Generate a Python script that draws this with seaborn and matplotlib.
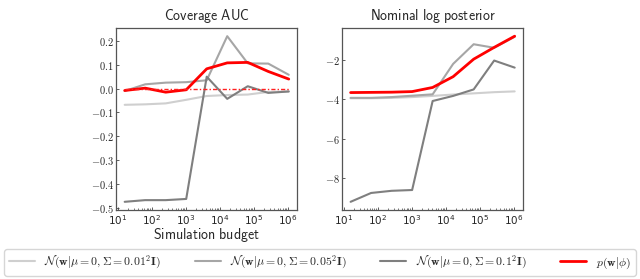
import numpy as np
import pandas as pd
import seaborn as sns
import matplotlib
matplotlib.use("Agg")
import matplotlib.pyplot as plt
from matplotlib.ticker import FuncFormatter, LogLocator, MultipleLocator

budgets = [16, 64, 256, 1024, 4096, 16384, 65536, 262144, 1048576]
series_labels = [
    r"$\mathcal{N}(\mathbf{w}|\mu=\mathbf{0},\mathbf{\Sigma}=0.01^2\mathbf{I})$",
    r"$\mathcal{N}(\mathbf{w}|\mu=\mathbf{0},\mathbf{\Sigma}=0.05^2\mathbf{I})$",
    r"$\mathcal{N}(\mathbf{w}|\mu=\mathbf{0},\mathbf{\Sigma}=0.1^2\mathbf{I})$",
    r"$p(\mathbf{w}|\phi)$",
]
colors = ["#cfcfcf", "#a6a6a6", "#7f7f7f", "#ff0000"]

auc_001 = [-0.068, -0.066, -0.062, -0.047, -0.031, -0.027, -0.025, -0.014, -0.012]
auc_005 = [-0.010, 0.018, 0.025, 0.027, 0.035, 0.220, 0.106, 0.105, 0.058]
auc_01 = [-0.475, -0.468, -0.468, -0.463, 0.050, -0.043, 0.010, -0.018, -0.012]
auc_prior = [-0.008, 0.002, -0.015, -0.005, 0.083, 0.108, 0.110, 0.072, 0.040]

lp_001 = [-3.95, -3.95, -3.93, -3.89, -3.83, -3.76, -3.70, -3.64, -3.60]
lp_005 = [-3.93, -3.93, -3.89, -3.82, -3.75, -2.20, -1.20, -1.38, -0.82]
lp_01 = [-9.22, -8.77, -8.66, -8.62, -4.09, -3.83, -3.50, -2.03, -2.39]
lp_prior = [-3.66, -3.65, -3.64, -3.61, -3.40, -2.85, -1.96, -1.36, -0.79]

titles = ["Coverage AUC", "Nominal log posterior"]
xlabel = "Simulation budget"


def long_df(vals):
    rows = []
    for lab, v in zip(series_labels, vals):
        for b, y in zip(budgets, v):
            rows.append({"budget": b, "value": y, "series": lab})
    return pd.DataFrame(rows)


sns.set_theme(style="white")
plt.rcParams["mathtext.fontset"] = "cm"
plt.rcParams["font.family"] = ["DejaVu Sans"]

fig = plt.figure(figsize=(6.4, 2.79), dpi=100)
ax1 = fig.add_axes([0.182, 0.247, 0.282, 0.653])
ax2 = fig.add_axes([0.535, 0.247, 0.282, 0.653])

palette = dict(zip(series_labels, colors))
sizes = dict(zip(series_labels, [1.5, 1.5, 1.5, 2.0]))

for ax, vals, title in [(ax1, [auc_001, auc_005, auc_01, auc_prior], titles[0]),
                        (ax2, [lp_001, lp_005, lp_01, lp_prior], titles[1])]:
    df = long_df(vals)
    sns.lineplot(data=df, x="budget", y="value", hue="series", palette=palette,
                 size="series", sizes=sizes, ax=ax, legend=(ax is ax1))
    ax.set_xscale("log")
    ax.set_title(r"$\mathsf{" + title.replace(" ", r"\ ") + "}$", fontsize=10, pad=6)
    ax.set_ylabel("")
    ax.set_xlabel("")
    ax.xaxis.set_major_locator(LogLocator(base=10, numticks=10))
    ax.xaxis.set_minor_locator(LogLocator(base=10, subs=np.arange(2, 10), numticks=20))
    ax.tick_params(axis="both", which="major", labelsize=7.5, length=2.5, width=0.6,
                   bottom=True, left=True, pad=2, color="#444444", direction="in")
    ax.tick_params(axis="x", which="minor", length=1.5, width=0.5, bottom=True,
                   color="#444444", direction="in")
    for s in ax.spines.values():
        s.set_color("#555555")
        s.set_linewidth(0.9)

ax1.plot(budgets, [0.0] * len(budgets), color="#ff2020", lw=1.0, ls=(0, (3, 1.5, 1, 1.5)))
ax1.yaxis.set_major_locator(MultipleLocator(0.1))
ax1.yaxis.set_major_formatter(FuncFormatter(lambda v, p: f"${v:.1f}$"))
ax2.yaxis.set_major_formatter(FuncFormatter(lambda v, p: f"${v:.0f}$"))
ax2.set_yticks([-8, -6, -4, -2])
ax1.set_xlabel(r"$\mathsf{Simulation\ budget}$", fontsize=10)
ax1.xaxis.set_label_coords(0.5, -0.09)

handles, labels = ax1.get_legend_handles_labels()
ax1.get_legend().remove()
fig.legend(handles, labels, loc="lower left", ncol=4, mode="expand",
           bbox_to_anchor=(0.003, 0.003, 0.994, 0.08), fontsize=8.5,
           frameon=True, edgecolor="#cccccc", handlelength=2.2, borderaxespad=0.2)

fig.savefig("out.png", dpi=100)
